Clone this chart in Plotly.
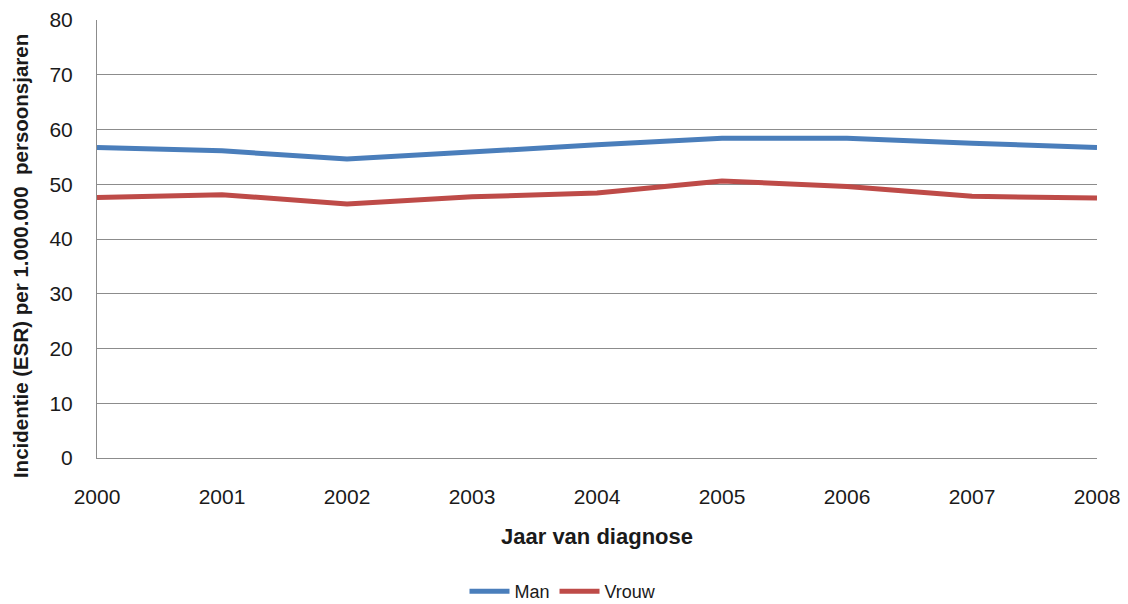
import plotly.graph_objects as go

years = [2000, 2001, 2002, 2003, 2004, 2005, 2006, 2007, 2008]
man = [56.7, 56.1, 54.6, 56.0, 57.2, 58.4, 58.4, 57.5, 56.7]
vrouw = [47.6, 48.1, 46.4, 47.7, 48.4, 50.6, 49.6, 47.8, 47.5]
y_ticks = [0, 10, 20, 30, 40, 50, 60, 70, 80]

font = "Liberation Sans, Arial, sans-serif"

fig = go.Figure()
fig.add_trace(go.Scatter(x=years, y=man, name="Man", mode="lines",
                         line=dict(color="#4A7EBB", width=5)))
fig.add_trace(go.Scatter(x=years, y=vrouw, name="Vrouw", mode="lines",
                         line=dict(color="#BE4B48", width=5)))

fig.update_layout(
    width=1128, height=604,
    margin=dict(l=97, r=31, t=20, b=146, autoexpand=False),
    paper_bgcolor="white", plot_bgcolor="white",
    font=dict(family=font, size=21, color="#1a1a1a"),
    showlegend=True,
    legend=dict(orientation="h", x=0.466, xanchor="center", y=-0.305, yanchor="middle",
                font=dict(size=18), itemwidth=40, tracegroupgap=0),
    xaxis=dict(range=[2000, 2008], tickvals=years, ticktext=[str(y) for y in years],
               showgrid=False, showline=True, linecolor="#8c8c8c", linewidth=1,
               ticks="", ticklabelstandoff=20, zeroline=False),
    yaxis=dict(range=[0, 80], tickvals=y_ticks, showgrid=True, gridcolor="#8c8c8c",
               gridwidth=1, showline=True, linecolor="#8c8c8c", linewidth=1,
               ticks="", ticklabelstandoff=19, zeroline=False),
    annotations=[
        dict(text="<b>Jaar van diagnose</b>", xref="paper", yref="paper",
             x=0.5, y=-0.18, xanchor="center", yanchor="middle", showarrow=False,
             font=dict(size=22, family=font)),
        dict(text="<b>Incidentie (ESR) per 1.000.000  persoonsjaren</b>", xref="paper", yref="paper",
             x=-0.077, y=0.461, xanchor="center", yanchor="middle", textangle=-90,
             showarrow=False, font=dict(size=20.5, family=font)),
    ],
)

fig.write_html("out.html")
